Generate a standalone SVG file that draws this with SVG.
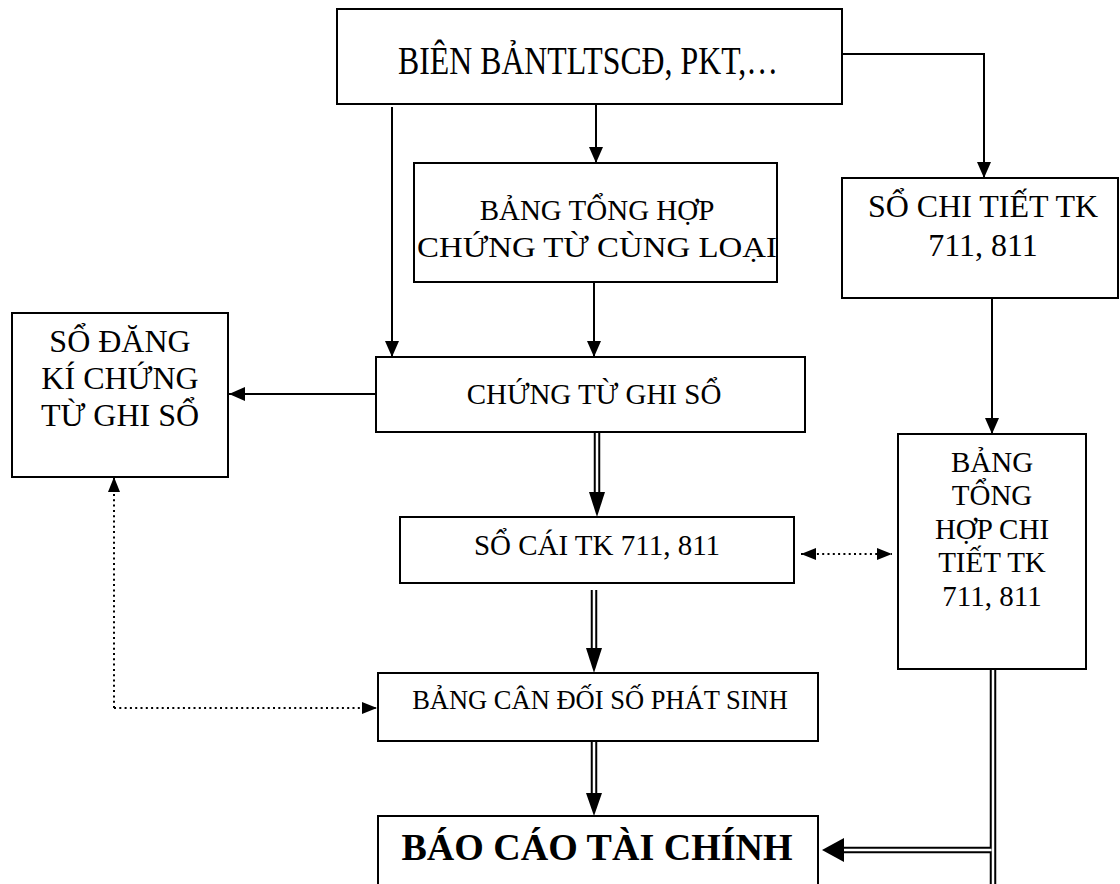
<svg xmlns="http://www.w3.org/2000/svg" width="1120" height="884" viewBox="0 0 1120 884">
  <style>
    .box { fill: #fff; stroke: #000; stroke-width: 2; }
    .lbl { font-family: "Liberation Serif", "Times New Roman", serif; fill: #000; text-anchor: middle; }
    .f32 { font-size: 32px; }
    .f29 { font-size: 29px; }
    .f26 { font-size: 26.5px; }
    .f38 { font-size: 38px; font-weight: bold; }
    .ln { fill: none; stroke: #000; stroke-width: 2; }
    .dot { fill: none; stroke: #000; stroke-width: 2; stroke-dasharray: 2 3.3; }
    .dbl-o { fill: none; stroke: #000; stroke-width: 6.5; }
    .dbl-i { fill: none; stroke: #fff; stroke-width: 2.5; }
    .head { fill: #000; }
  </style>
  <defs>
    <marker id="arr" markerUnits="userSpaceOnUse" markerWidth="17" markerHeight="17" viewBox="0 0 17 17" refX="16" refY="8.5" orient="auto">
      <path d="M0,1.5 L16,8.5 L0,15.5 Z" fill="#000"/>
    </marker>
    <marker id="arrS" markerUnits="userSpaceOnUse" markerWidth="16" markerHeight="16" viewBox="0 0 16 16" refX="15" refY="8" orient="auto-start-reverse">
      <path d="M0,2 L15,8 L0,14 Z" fill="#000"/>
    </marker>
  </defs>

  <rect width="1120" height="884" fill="#fff"/>

  <!-- connectors -->
  <g id="connectors">
    <!-- single solid arrows -->
    <path class="ln" d="M596,104 V163" marker-end="url(#arr)"/>
    <path class="ln" d="M392,107 V357" marker-end="url(#arr)"/>
    <path class="ln" d="M594,282 V357" marker-end="url(#arr)"/>
    <path class="ln" d="M376,394 H229" marker-end="url(#arr)"/>
    <path class="ln" d="M842,54 H984 V178" marker-end="url(#arr)"/>
    <path class="ln" d="M992,286 V434" marker-end="url(#arr)"/>

    <!-- dotted arrows -->
    <path class="dot" d="M801,554 H892" marker-start="url(#arrS)" marker-end="url(#arrS)"/>
    <path class="dot" d="M114,708 V477" marker-end="url(#arrS)"/>
    <path class="dot" d="M114,708 H377" marker-end="url(#arrS)"/>

    <!-- double-line arrows -->
    <path class="dbl-o" d="M597,432 V494"/>
    <path class="dbl-i" d="M597,432 V494"/>
    <path class="head" d="M589,492 L605,492 L597,517 Z"/>

    <path class="dbl-o" d="M594,590 V650"/>
    <path class="dbl-i" d="M594,590 V650"/>
    <path class="head" d="M586,648 L602,648 L594,673 Z"/>

    <path class="dbl-o" d="M594,741 V795"/>
    <path class="dbl-i" d="M594,741 V795"/>
    <path class="head" d="M586,793 L602,793 L594,816 Z"/>

    <path class="dbl-o" d="M993,669 V884"/>
    <path class="dbl-i" d="M993,669 V884"/>
    <path class="dbl-o" d="M990,850 H842"/>
    <path class="dbl-i" d="M991.5,850 H842"/>
    <path class="head" d="M844,838 L844,862 L822,850 Z"/>
  </g>

  <!-- nodes -->
  <g id="n-bienban">
    <rect class="box" x="337" y="9" width="505" height="95"/>
    <text class="lbl f32" transform="translate(588,74) scale(1,1.25)" textLength="380" lengthAdjust="spacingAndGlyphs">BIÊN BẢNTLTSCĐ, PKT,…</text>
  </g>

  <g id="n-bangtonghop">
    <rect class="box" x="414" y="163" width="363" height="119"/>
    <text class="lbl f29" x="597" y="220">BẢNG TỔNG HỢP</text>
    <text class="lbl f29" x="597" y="257" textLength="360" lengthAdjust="spacingAndGlyphs">CHỨNG TỪ CÙNG LOẠI</text>
  </g>

  <g id="n-sochitiet">
    <rect class="box" x="842" y="178" width="276" height="120"/>
    <text class="lbl f32" x="983" y="217">SỔ CHI TIẾT TK</text>
    <text class="lbl f32" x="983" y="256">711, 811</text>
  </g>

  <g id="n-sodangki">
    <rect class="box" x="12" y="313" width="216" height="164"/>
    <text class="lbl f32" x="120" y="352">SỔ ĐĂNG</text>
    <text class="lbl f32" x="120" y="389">KÍ CHỨNG</text>
    <text class="lbl f32" x="120" y="426">TỪ GHI SỔ</text>
  </g>

  <g id="n-chungtughiso">
    <rect class="box" x="376" y="357" width="429" height="75"/>
    <text class="lbl f29" x="594" y="404">CHỨNG TỪ GHI SỔ</text>
  </g>

  <g id="n-bangthct">
    <rect class="box" x="898" y="434" width="188" height="235"/>
    <text class="lbl f29" x="992" y="472">BẢNG</text>
    <text class="lbl f29" x="992" y="505">TỔNG</text>
    <text class="lbl f29" x="992" y="539">HỢP CHI</text>
    <text class="lbl f29" x="992" y="572">TIẾT TK</text>
    <text class="lbl f29" x="992" y="606">711, 811</text>
  </g>

  <g id="n-socai">
    <rect class="box" x="400" y="517" width="394" height="66"/>
    <text class="lbl f29" x="597" y="555">SỔ CÁI TK 711, 811</text>
  </g>

  <g id="n-bcdsps">
    <rect class="box" x="378" y="673" width="440" height="68"/>
    <text class="lbl f26" x="600" y="709">BẢNG CÂN ĐỐI SỐ PHÁT SINH</text>
  </g>

  <g id="n-baocao">
    <rect class="box" x="378" y="816" width="440" height="80"/>
    <text class="lbl f38" x="597" y="860">BÁO CÁO TÀI CHÍNH</text>
  </g>
</svg>
